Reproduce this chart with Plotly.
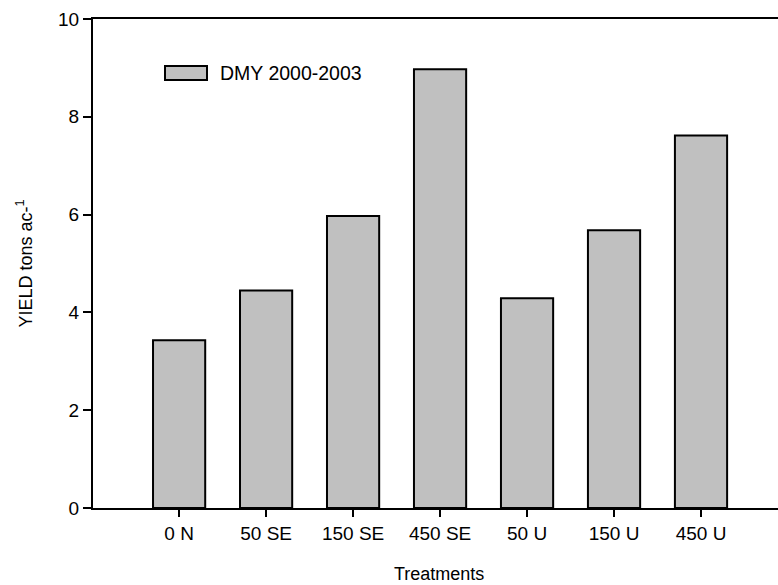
import plotly.graph_objects as go

categories = ["0 N", "50 SE", "150 SE", "450 SE", "50 U", "150 U", "450 U"]
yield_values = [3.43, 4.45, 5.97, 8.97, 4.29, 5.68, 7.62]
series_name = "DMY 2000-2003"
y_ticks = [0, 2, 4, 6, 8, 10]

W, H = 778, 585
ml, mr, mt, mb = 93, 0, 19, 77
pw = W - ml - mr
ph = H - mt - mb
FONT = "Liberation Sans, Arial, sans-serif"

fig = go.Figure()
fig.add_trace(go.Bar(
    x=categories, y=yield_values, name=series_name, width=0.6,
    marker=dict(color="#C0C0C0", line=dict(color="black", width=2)),
    showlegend=False,
))

fig.update_layout(
    width=W, height=H,
    margin=dict(l=ml, r=mr, t=mt, b=mb),
    paper_bgcolor="white", plot_bgcolor="white",
    font=dict(family=FONT, size=18, color="black"),
    bargap=0.4,
)
fig.update_xaxes(
    type="category", range=[-0.99, 6.885],
    showline=True, linecolor="black", linewidth=2, mirror=True,
    ticks="outside", ticklen=7, tickwidth=2, tickcolor="black",
    showgrid=False, zeroline=False,
    tickfont=dict(size=19),
)
fig.update_yaxes(
    range=[0, 10], tickvals=y_ticks,
    showline=True, linecolor="black", linewidth=2, mirror=False,
    ticks="outside", ticklen=8, tickwidth=2, tickcolor="black",
    showgrid=False, zeroline=False,
    tickfont=dict(size=19),
)

# axis titles
fig.add_annotation(
    text="Treatments", xref="paper", yref="paper",
    x=(439 - ml) / pw, y=-(574 - (mt + ph)) / ph,
    xanchor="center", yanchor="middle", showarrow=False,
    font=dict(size=18),
)
fig.add_annotation(
    text="YIELD tons ac-<sup>1</sup>", xref="paper", yref="paper",
    x=(25 - ml) / pw, y=0.5, textangle=-90,
    xanchor="center", yanchor="middle", showarrow=False,
    font=dict(size=18),
)

# legend (manual swatch + label)
fig.add_shape(
    type="rect", xref="paper", yref="paper",
    x0=(165 - ml) / pw, x1=(207 - ml) / pw,
    y0=1 - (80 - mt) / ph, y1=1 - (66 - mt) / ph,
    fillcolor="#C0C0C0", line=dict(color="black", width=2),
)
fig.add_annotation(
    text=series_name, xref="paper", yref="paper",
    x=(218 - ml) / pw, y=1 - (73 - mt) / ph,
    xanchor="left", yanchor="middle", showarrow=False,
    font=dict(size=19.5),
)

fig.write_html(
    "out.html",
    config={"displayModeBar": False},
    post_script="document.body.style.margin='0';document.body.style.overflow='hidden';",
)
